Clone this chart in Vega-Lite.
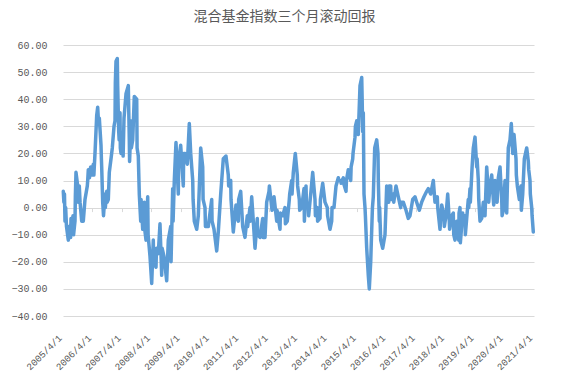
{
  "$schema": "https://vega.github.io/schema/vega-lite/v6.json",
  "width": 471,
  "height": 271,
  "autosize": {"type": "none"},
  "padding": {"left": 63, "top": 45, "right": 35, "bottom": 59},
  "background": "#ffffff",
  "title": {
    "text": "混合基金指数三个月滚动回报",
    "font": "Noto Sans CJK SC",
    "fontSize": 14,
    "fontWeight": "normal",
    "color": "#595959",
    "offset": 16,
    "dx": -14
  },
  "config": {
    "view": {"stroke": null},
    "axis": {
      "labelFont": "Liberation Mono",
      "labelFontSize": 10,
      "labelColor": "#595959",
      "title": null
    }
  },
  "data": {
    "values": [
      {"t": 2005.26, "v": 6}, {"t": 2005.28, "v": 2}, {"t": 2005.30, "v": 5}, {"t": 2005.318, "v": -5},
      {"t": 2005.34, "v": 0}, {"t": 2005.369, "v": -7}, {"t": 2005.43, "v": -12}, {"t": 2005.45, "v": -7},
      {"t": 2005.488, "v": -8}, {"t": 2005.51, "v": -11}, {"t": 2005.522, "v": -4}, {"t": 2005.556, "v": -10},
      {"t": 2005.59, "v": -3}, {"t": 2005.61, "v": -10}, {"t": 2005.658, "v": -5}, {"t": 2005.67, "v": 4},
      {"t": 2005.692, "v": 13}, {"t": 2005.75, "v": 8}, {"t": 2005.765, "v": 2}, {"t": 2005.804, "v": 8},
      {"t": 2005.83, "v": 2}, {"t": 2005.886, "v": -5}, {"t": 2005.94, "v": -5}, {"t": 2005.998, "v": 3},
      {"t": 2006.077, "v": 8}, {"t": 2006.09, "v": 10}, {"t": 2006.111, "v": 14}, {"t": 2006.15, "v": 11},
      {"t": 2006.19, "v": 15}, {"t": 2006.226, "v": 15}, {"t": 2006.24, "v": 12}, {"t": 2006.281, "v": 16},
      {"t": 2006.30, "v": 12}, {"t": 2006.338, "v": 20}, {"t": 2006.396, "v": 34}, {"t": 2006.43, "v": 37},
      {"t": 2006.46, "v": 31}, {"t": 2006.485, "v": 33}, {"t": 2006.543, "v": 23}, {"t": 2006.556, "v": 18},
      {"t": 2006.566, "v": 15}, {"t": 2006.60, "v": 2}, {"t": 2006.628, "v": -3}, {"t": 2006.679, "v": 5},
      {"t": 2006.69, "v": 0}, {"t": 2006.736, "v": 6}, {"t": 2006.75, "v": 2}, {"t": 2006.791, "v": 3},
      {"t": 2006.825, "v": 13}, {"t": 2006.883, "v": 18}, {"t": 2006.927, "v": 22}, {"t": 2006.985, "v": 30},
      {"t": 2007.019, "v": 32}, {"t": 2007.03, "v": 46}, {"t": 2007.053, "v": 54}, {"t": 2007.097, "v": 55},
      {"t": 2007.11, "v": 45}, {"t": 2007.145, "v": 28}, {"t": 2007.16, "v": 25}, {"t": 2007.189, "v": 35},
      {"t": 2007.20, "v": 22}, {"t": 2007.223, "v": 20}, {"t": 2007.281, "v": 27}, {"t": 2007.295, "v": 19},
      {"t": 2007.325, "v": 33}, {"t": 2007.393, "v": 42}, {"t": 2007.471, "v": 45}, {"t": 2007.505, "v": 25},
      {"t": 2007.515, "v": 17}, {"t": 2007.563, "v": 32}, {"t": 2007.575, "v": 22}, {"t": 2007.621, "v": 25},
      {"t": 2007.675, "v": 41}, {"t": 2007.757, "v": 40}, {"t": 2007.77, "v": 22}, {"t": 2007.811, "v": 19},
      {"t": 2007.845, "v": 5}, {"t": 2007.893, "v": -5}, {"t": 2007.905, "v": 3}, {"t": 2007.961, "v": -8},
      {"t": 2008.015, "v": 2}, {"t": 2008.03, "v": -8}, {"t": 2008.073, "v": -12}, {"t": 2008.131, "v": 4},
      {"t": 2008.145, "v": -10}, {"t": 2008.209, "v": -18}, {"t": 2008.267, "v": -28}, {"t": 2008.321, "v": -12},
      {"t": 2008.335, "v": -20}, {"t": 2008.413, "v": -22}, {"t": 2008.43, "v": -15}, {"t": 2008.491, "v": -17},
      {"t": 2008.549, "v": -6}, {"t": 2008.607, "v": -25}, {"t": 2008.62, "v": -15}, {"t": 2008.685, "v": -18},
      {"t": 2008.777, "v": -27}, {"t": 2008.832, "v": -12}, {"t": 2008.913, "v": -7}, {"t": 2008.925, "v": -20},
      {"t": 2008.981, "v": 7}, {"t": 2008.995, "v": -5}, {"t": 2009.036, "v": 10}, {"t": 2009.093, "v": 24},
      {"t": 2009.172, "v": 5}, {"t": 2009.185, "v": 17}, {"t": 2009.253, "v": 23}, {"t": 2009.342, "v": 8},
      {"t": 2009.355, "v": 20}, {"t": 2009.40, "v": 20}, {"t": 2009.478, "v": 16}, {"t": 2009.546, "v": 31},
      {"t": 2009.594, "v": 20}, {"t": 2009.662, "v": 10}, {"t": 2009.675, "v": 3}, {"t": 2009.716, "v": -5},
      {"t": 2009.798, "v": -8}, {"t": 2009.852, "v": -3}, {"t": 2009.934, "v": 22}, {"t": 2010.002, "v": 15},
      {"t": 2010.015, "v": 3}, {"t": 2010.08, "v": 0}, {"t": 2010.095, "v": -7}, {"t": 2010.192, "v": -7},
      {"t": 2010.308, "v": 3}, {"t": 2010.32, "v": -5}, {"t": 2010.386, "v": -8}, {"t": 2010.478, "v": -16},
      {"t": 2010.532, "v": -9}, {"t": 2010.614, "v": 5}, {"t": 2010.702, "v": 18}, {"t": 2010.794, "v": 19},
      {"t": 2010.872, "v": 12}, {"t": 2010.885, "v": 8}, {"t": 2010.954, "v": 10}, {"t": 2010.965, "v": 3},
      {"t": 2011.042, "v": -9}, {"t": 2011.134, "v": 1}, {"t": 2011.145, "v": -3}, {"t": 2011.213, "v": -5},
      {"t": 2011.225, "v": 3}, {"t": 2011.294, "v": 6}, {"t": 2011.362, "v": -7}, {"t": 2011.44, "v": -11},
      {"t": 2011.519, "v": -3}, {"t": 2011.53, "v": -7}, {"t": 2011.61, "v": 0}, {"t": 2011.62, "v": -5},
      {"t": 2011.668, "v": 4}, {"t": 2011.723, "v": -5}, {"t": 2011.781, "v": -15}, {"t": 2011.859, "v": -4},
      {"t": 2011.87, "v": -10}, {"t": 2011.951, "v": -11}, {"t": 2012.042, "v": -4}, {"t": 2012.055, "v": -11},
      {"t": 2012.121, "v": -11}, {"t": 2012.178, "v": 2}, {"t": 2012.257, "v": 6}, {"t": 2012.27, "v": 8},
      {"t": 2012.349, "v": 0}, {"t": 2012.36, "v": -1}, {"t": 2012.427, "v": 4}, {"t": 2012.519, "v": -5},
      {"t": 2012.53, "v": -1}, {"t": 2012.631, "v": -8}, {"t": 2012.645, "v": -2}, {"t": 2012.723, "v": -3},
      {"t": 2012.801, "v": 0}, {"t": 2012.815, "v": -6}, {"t": 2012.879, "v": -5}, {"t": 2012.947, "v": 3},
      {"t": 2012.96, "v": 5}, {"t": 2013.029, "v": 10}, {"t": 2013.04, "v": 5}, {"t": 2013.083, "v": 13},
      {"t": 2013.151, "v": 20}, {"t": 2013.219, "v": 12}, {"t": 2013.23, "v": 8}, {"t": 2013.287, "v": 3},
      {"t": 2013.30, "v": -1}, {"t": 2013.369, "v": 0}, {"t": 2013.447, "v": 7}, {"t": 2013.46, "v": -5},
      {"t": 2013.515, "v": 8}, {"t": 2013.53, "v": 2}, {"t": 2013.593, "v": 1}, {"t": 2013.605, "v": -3},
      {"t": 2013.675, "v": 5}, {"t": 2013.743, "v": 13}, {"t": 2013.821, "v": 3}, {"t": 2013.835, "v": -3},
      {"t": 2013.899, "v": 0}, {"t": 2013.91, "v": -5}, {"t": 2013.991, "v": -4}, {"t": 2014.005, "v": 3},
      {"t": 2014.083, "v": 9}, {"t": 2014.161, "v": 2}, {"t": 2014.24, "v": 0}, {"t": 2014.25, "v": -3},
      {"t": 2014.331, "v": -8}, {"t": 2014.389, "v": -5}, {"t": 2014.40, "v": 0}, {"t": 2014.467, "v": 0},
      {"t": 2014.536, "v": 8}, {"t": 2014.614, "v": 11}, {"t": 2014.625, "v": 10}, {"t": 2014.696, "v": 10},
      {"t": 2014.71, "v": 9}, {"t": 2014.784, "v": 11}, {"t": 2014.795, "v": 9}, {"t": 2014.876, "v": 6},
      {"t": 2014.89, "v": 10}, {"t": 2014.954, "v": 14}, {"t": 2015.036, "v": 10}, {"t": 2015.05, "v": 15},
      {"t": 2015.104, "v": 18}, {"t": 2015.115, "v": 20}, {"t": 2015.182, "v": 26}, {"t": 2015.195, "v": 30},
      {"t": 2015.24, "v": 32}, {"t": 2015.294, "v": 27}, {"t": 2015.352, "v": 45}, {"t": 2015.41, "v": 48},
      {"t": 2015.425, "v": 40}, {"t": 2015.444, "v": 28}, {"t": 2015.464, "v": 35}, {"t": 2015.488, "v": 5},
      {"t": 2015.522, "v": 0}, {"t": 2015.535, "v": -3}, {"t": 2015.58, "v": -15}, {"t": 2015.634, "v": -25},
      {"t": 2015.668, "v": -30}, {"t": 2015.716, "v": -20}, {"t": 2015.73, "v": -15}, {"t": 2015.76, "v": -5},
      {"t": 2015.775, "v": 0}, {"t": 2015.804, "v": 4}, {"t": 2015.852, "v": 22}, {"t": 2015.92, "v": 25},
      {"t": 2015.964, "v": 20}, {"t": 2015.975, "v": 10}, {"t": 2016.008, "v": -5}, {"t": 2016.02, "v": 0},
      {"t": 2016.056, "v": -12}, {"t": 2016.124, "v": -15}, {"t": 2016.202, "v": -10}, {"t": 2016.26, "v": 8},
      {"t": 2016.328, "v": 2}, {"t": 2016.34, "v": 8}, {"t": 2016.396, "v": 8}, {"t": 2016.41, "v": 3},
      {"t": 2016.485, "v": 5}, {"t": 2016.5, "v": 2}, {"t": 2016.576, "v": 8}, {"t": 2016.655, "v": 4},
      {"t": 2016.736, "v": 0}, {"t": 2016.75, "v": 2}, {"t": 2016.824, "v": 2}, {"t": 2016.917, "v": -1},
      {"t": 2016.995, "v": -4}, {"t": 2017.052, "v": -3}, {"t": 2017.144, "v": 3}, {"t": 2017.222, "v": 4},
      {"t": 2017.28, "v": 2}, {"t": 2017.369, "v": -1}, {"t": 2017.45, "v": 2}, {"t": 2017.528, "v": 4},
      {"t": 2017.62, "v": 6}, {"t": 2017.675, "v": 7}, {"t": 2017.756, "v": 5}, {"t": 2017.845, "v": 10},
      {"t": 2017.902, "v": 2}, {"t": 2017.981, "v": 4}, {"t": 2017.995, "v": 0}, {"t": 2018.073, "v": -8},
      {"t": 2018.131, "v": 1}, {"t": 2018.209, "v": -3}, {"t": 2018.22, "v": -7}, {"t": 2018.277, "v": -3},
      {"t": 2018.335, "v": 5}, {"t": 2018.389, "v": -5}, {"t": 2018.40, "v": -8}, {"t": 2018.471, "v": -3},
      {"t": 2018.525, "v": -2}, {"t": 2018.54, "v": -10}, {"t": 2018.583, "v": -12}, {"t": 2018.641, "v": -5},
      {"t": 2018.709, "v": -12}, {"t": 2018.72, "v": -2}, {"t": 2018.753, "v": 0}, {"t": 2018.765, "v": -13},
      {"t": 2018.845, "v": -2}, {"t": 2018.86, "v": -6}, {"t": 2018.923, "v": -3}, {"t": 2018.935, "v": -10},
      {"t": 2018.981, "v": -4}, {"t": 2019.035, "v": 3}, {"t": 2019.05, "v": 0}, {"t": 2019.093, "v": 7},
      {"t": 2019.105, "v": 2}, {"t": 2019.151, "v": 12}, {"t": 2019.165, "v": 15}, {"t": 2019.206, "v": 22},
      {"t": 2019.264, "v": 26}, {"t": 2019.321, "v": 15}, {"t": 2019.335, "v": 18}, {"t": 2019.376, "v": 10},
      {"t": 2019.39, "v": 3}, {"t": 2019.434, "v": -5}, {"t": 2019.492, "v": -4}, {"t": 2019.546, "v": 2},
      {"t": 2019.604, "v": -3}, {"t": 2019.661, "v": 15}, {"t": 2019.716, "v": 6}, {"t": 2019.73, "v": 2},
      {"t": 2019.774, "v": 8}, {"t": 2019.832, "v": 12}, {"t": 2019.886, "v": 3}, {"t": 2019.90, "v": 1},
      {"t": 2019.944, "v": 10}, {"t": 2020.001, "v": 3}, {"t": 2020.015, "v": 2}, {"t": 2020.056, "v": 11},
      {"t": 2020.114, "v": 15}, {"t": 2020.172, "v": 3}, {"t": 2020.185, "v": -3}, {"t": 2020.226, "v": -1},
      {"t": 2020.284, "v": 10}, {"t": 2020.342, "v": -2}, {"t": 2020.396, "v": 22}, {"t": 2020.454, "v": 25},
      {"t": 2020.498, "v": 31}, {"t": 2020.546, "v": 20}, {"t": 2020.56, "v": 25}, {"t": 2020.59, "v": 27},
      {"t": 2020.658, "v": 18}, {"t": 2020.67, "v": 12}, {"t": 2020.703, "v": 8}, {"t": 2020.771, "v": 3},
      {"t": 2020.785, "v": 5}, {"t": 2020.828, "v": 8}, {"t": 2020.84, "v": -1}, {"t": 2020.886, "v": 5},
      {"t": 2020.941, "v": 18}, {"t": 2021.022, "v": 22}, {"t": 2021.077, "v": 17}, {"t": 2021.09, "v": 14},
      {"t": 2021.134, "v": 10}, {"t": 2021.145, "v": 5}, {"t": 2021.192, "v": 0}, {"t": 2021.205, "v": -3},
      {"t": 2021.246, "v": -9}
    ]
  },
  "layer": [
    {
      "mark": {"type": "line", "opacity": 0},
      "encoding": {
        "x": {
          "field": "t",
          "type": "quantitative",
          "scale": {"domain": [2005.25, 2021.27], "nice": false, "zero": false},
          "axis": {
            "orient": "top",
            "values": [2005.25, 2006.25, 2007.25, 2008.25, 2009.25, 2010.25, 2011.25, 2012.25, 2013.25, 2014.25, 2015.25, 2016.25, 2017.25, 2018.25, 2019.25, 2020.25, 2021.25],
            "labels": false,
            "grid": false,
            "domain": false,
            "ticks": true,
            "tickSize": -4,
            "tickColor": "#D9D9D9",
            "offset": -162.6
          }
        },
        "y": {
          "field": "v",
          "type": "quantitative",
          "scale": {"domain": [-40, 60], "nice": false},
          "axis": {
            "values": [-40, -30, -20, -10, 0, 10, 20, 30, 40, 50, 60],
            "format": ".2f",
            "grid": true,
            "gridColor": "#D9D9D9",
            "gridWidth": 1,
            "domain": false,
            "ticks": false,
            "tickSize": 0,
            "labelPadding": 16,
            "labelOverlap": false
          }
        }
      }
    },
    {
      "mark": {"type": "line", "color": "#5B9BD5", "strokeWidth": 3.5, "strokeJoin": "round", "strokeCap": "round"},
      "encoding": {
        "x": {
          "field": "t",
          "type": "quantitative",
          "scale": {"domain": [2005.25, 2021.27], "nice": false, "zero": false},
          "axis": {
            "orient": "bottom",
            "values": [2005.25, 2006.25, 2007.25, 2008.25, 2009.25, 2010.25, 2011.25, 2012.25, 2013.25, 2014.25, 2015.25, 2016.25, 2017.25, 2018.25, 2019.25, 2020.25, 2021.25],
            "labelExpr": "floor(datum.value) + '/4/1'",
            "labelAngle": -45,
            "labelAlign": "right",
            "labelBaseline": "middle",
            "labelPadding": 20,
            "labelOffset": -3,
            "labelOverlap": false,
            "labelFontSize": 9.5,
            "grid": false,
            "domain": false,
            "ticks": false,
            "tickSize": 0
          }
        },
        "y": {
          "field": "v",
          "type": "quantitative",
          "scale": {"domain": [-40, 60], "nice": false},
          "axis": {
            "values": [-40, -30, -20, -10, 0, 10, 20, 30, 40, 50, 60],
            "format": ".2f",
            "grid": true,
            "gridColor": "#D9D9D9",
            "gridWidth": 1,
            "domain": false,
            "ticks": false,
            "tickSize": 0,
            "labelPadding": 16,
            "labelOverlap": false
          }
        }
      }
    }
  ],
  "resolve": {"axis": {"x": "independent"}}
}
